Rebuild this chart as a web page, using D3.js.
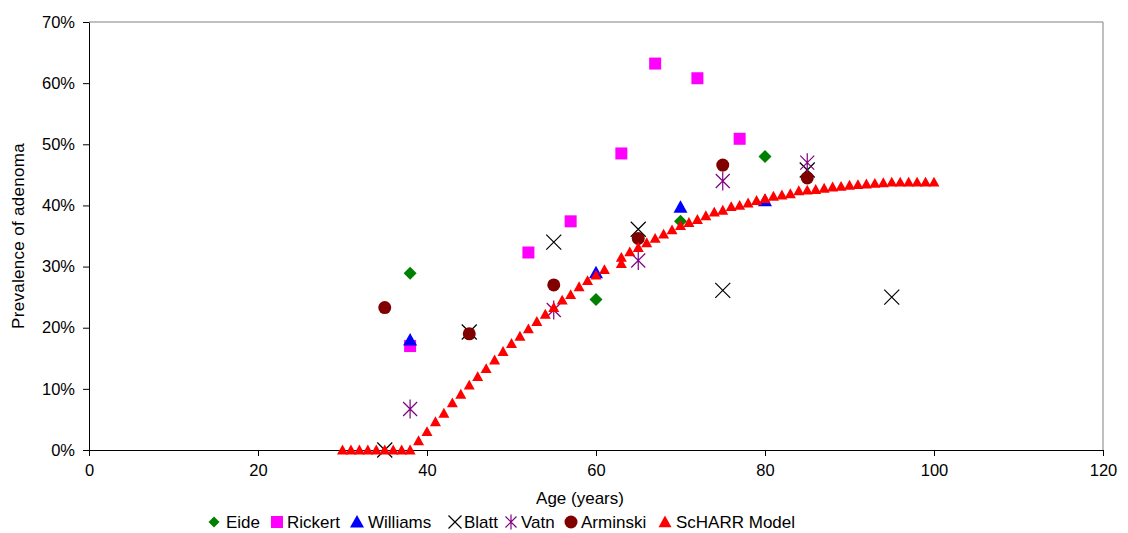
<!DOCTYPE html>
<html>
<head>
<meta charset="utf-8">
<script src="https://cdn.jsdelivr.net/npm/d3@7"></script>
<style>
  body { margin: 0; background: #fff; }
  svg text { font-family: "Liberation Sans", Arial, sans-serif; fill: #000; }
</style>
</head>
<body>
<div id="chart"></div>
<script>
// data: [age, prevalence %]
var eide = [[38, 28.9], [60, 24.6], [70, 37.4], [80, 48.0]];
var rickert = [[38, 17.0], [52, 32.3], [57, 37.4], [63, 48.5], [67, 63.2], [72, 60.8], [77, 50.9]];
var williams = [[38, 18.0], [60, 29.0], [70, 39.7], [80, 40.8]];
var blatt = [[35, 0], [45, 19.3], [55, 34.0], [65, 36.1], [75, 26.1], [85, 45.8], [95, 25.0]];
var vatn = [[38, 6.7], [55, 22.9], [65, 31.0], [75, 44.0], [85, 47.0]];
var arminski = [[35, 23.3], [45, 19.0], [55, 27.0], [65, 34.6], [75, 46.6], [85, 44.5]];
var model = [
  [30, 0], [31, 0], [32, 0], [33, 0], [34, 0], [35, 0], [36, 0], [37, 0], [38, 0],
  [39, 1.5], [40, 3.0], [41, 4.6], [42, 6.0], [43, 7.7], [44, 9.1], [45, 10.6],
  [46, 12.0], [47, 13.3], [48, 14.7], [49, 16.1], [50, 17.4], [51, 18.6], [52, 19.8],
  [53, 21.0], [54, 22.2], [55, 23.3], [56, 24.5], [57, 25.4], [58, 26.7], [59, 27.7],
  [60, 28.6], [61, 29.5], [63, 30.5], [63, 31.5], [64, 32.4], [65, 33.1], [66, 33.9],
  [67, 34.6], [68, 35.3], [69, 36.0], [70, 36.7], [71, 37.2], [72, 37.7], [73, 38.3],
  [74, 38.9], [75, 39.2], [76, 39.8], [77, 40.0], [78, 40.4], [79, 40.8], [80, 41.1],
  [81, 41.5], [82, 41.7], [83, 41.9], [84, 42.4], [85, 42.5], [86, 42.6], [87, 42.8],
  [88, 43.0], [89, 43.1], [90, 43.3], [91, 43.4], [92, 43.5], [93, 43.6], [94, 43.7],
  [95, 43.8], [96, 43.8], [97, 43.8], [98, 43.8], [99, 43.8], [100, 43.8]
];
var xTicks = [0, 20, 40, 60, 80, 100, 120];
var yTicks = [0, 10, 20, 30, 40, 50, 60, 70];

var width = 1128, height = 533;
var svg = d3.select("#chart").append("svg")
    .attr("width", width)
    .attr("height", height);

var x = d3.scaleLinear().domain([0, 120]).range([89, 1103]);
var y = d3.scaleLinear().domain([0, 70]).range([450, 22]);

// plot area border (grey top/right)
svg.append("path")
    .attr("d", "M" + x(0) + "," + y(70) + "H" + x(120) + "V" + y(0))
    .attr("fill", "none")
    .attr("stroke", "#808080")
    .attr("stroke-width", 1);

var xAxis = svg.append("g")
    .attr("transform", "translate(0," + y(0) + ")")
    .call(d3.axisBottom(x).tickValues(xTicks).tickSize(6).tickPadding(8).tickSizeOuter(0));
var yAxis = svg.append("g")
    .attr("transform", "translate(" + x(0) + ",0)")
    .call(d3.axisLeft(y).tickValues(yTicks).tickSize(6).tickPadding(8).tickSizeOuter(0)
        .tickFormat(function(d) { return d + "%"; }));

[xAxis, yAxis].forEach(function(g) {
    g.selectAll("path, line").attr("stroke", "#000");
    g.selectAll("text").style("font-size", "16.5px").style("font-family", "Liberation Sans, Arial, sans-serif");
});

svg.append("text")
    .attr("x", 580)
    .attr("y", 504)
    .attr("text-anchor", "middle")
    .style("font-size", "17px")
    .text("Age (years)");

svg.append("text")
    .attr("transform", "translate(24," + y(35) + ") rotate(-90)")
    .attr("text-anchor", "middle")
    .style("font-size", "17px")
    .style("letter-spacing", "0.3px")
    .text("Prevalence of adenoma");

// marker shapes
function diamond(s) { return "M0," + (-s) + "L" + s + ",0L0," + s + "L" + (-s) + ",0Z"; }
function square(s) { return "M" + (-s) + "," + (-s) + "h" + (2 * s) + "v" + (2 * s) + "h" + (-2 * s) + "Z"; }
function triangle(s) { return "M0," + (-s) + "L" + s + "," + (s * 0.8) + "L" + (-s) + "," + (s * 0.8) + "Z"; }
function circle(s) { return "M" + (-s) + ",0A" + s + "," + s + " 0 1,0 " + s + ",0A" + s + "," + s + " 0 1,0 " + (-s) + ",0Z"; }
function cross(s) { return "M" + (-s) + "," + (-s) + "L" + s + "," + s + "M" + s + "," + (-s) + "L" + (-s) + "," + s; }
function star(s) { return cross(s) + "M0," + (-s * 1.35) + "V" + (s * 1.35); }

var series = [
  {name: "Eide", data: eide, path: diamond(6.5), color: "#008000", filled: true},
  {name: "Rickert", data: rickert, path: square(6), color: "#FF00FF", filled: true},
  {name: "Williams", data: williams, path: triangle(7), color: "#0000FF", filled: true},
  {name: "Blatt", data: blatt, path: cross(7.5), color: "#000000", filled: false},
  {name: "Vatn", data: vatn, path: star(7), color: "#800080", filled: false},
  {name: "Arminski", data: arminski, path: circle(6.5), color: "#800000", filled: true},
  {name: "ScHARR Model", data: model, path: triangle(5.5), color: "#FF0000", filled: true}
];

series.forEach(function(s) {
    svg.append("g").selectAll("path")
        .data(s.data)
        .enter().append("path")
        .attr("transform", function(d) { return "translate(" + x(d[0]) + "," + y(d[1]) + ")"; })
        .attr("d", s.path)
        .attr("fill", s.filled ? s.color : "none")
        .attr("stroke", s.filled ? "none" : s.color)
        .attr("stroke-width", 1.2);
});

// legend
var legendMarkX = [214, 277, 357, 455, 511, 571, 665];
var legendTextX = [226, 287, 368, 464, 521, 581, 676];
var legendPaths = [diamond(5.5), square(6), triangle(7), cross(6.5), star(5.5), circle(6.5), triangle(6.5)];
var legend = svg.append("g");
series.forEach(function(s, i) {
    legend.append("path")
        .attr("transform", "translate(" + legendMarkX[i] + ",522)")
        .attr("d", legendPaths[i])
        .attr("fill", s.filled ? s.color : "none")
        .attr("stroke", s.filled ? "none" : s.color)
        .attr("stroke-width", 1.2);
    legend.append("text")
        .attr("x", legendTextX[i])
        .attr("y", 528)
        .style("font-size", "17px")
        .text(s.name);
});
</script>
</body>
</html>
